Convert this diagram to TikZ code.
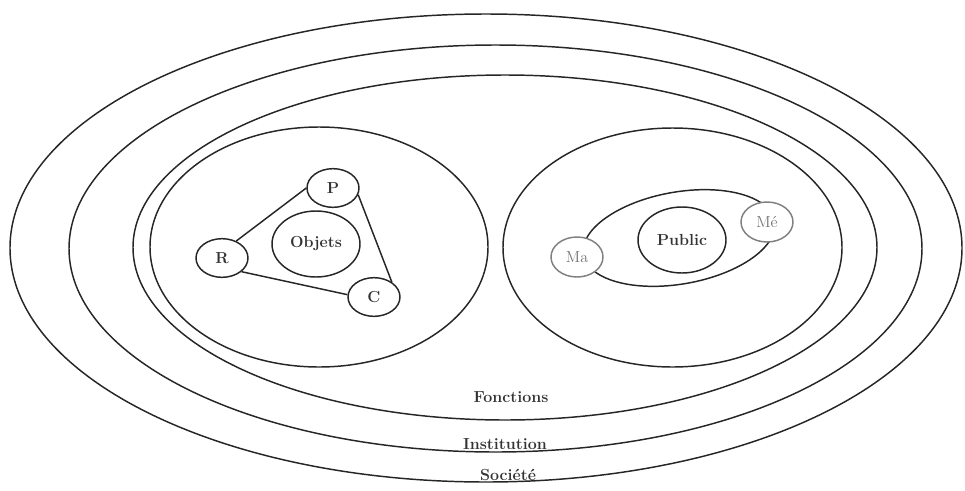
\documentclass[tikz,border=0pt]{standalone}
\usepackage{amssymb}
\usepackage{amsmath}
\usepackage{tikz}
\usetikzlibrary{shapes.geometric}

\begin{document}
\begin{tikzpicture}[x=0.75pt,y=0.75pt,yscale=-1,xscale=1,
    ring/.style={line width=1.1pt, black!85},
    bubble/.style={draw=black!85, ellipse, line width=1.1pt, fill=white, inner sep=0pt,
        minimum width=39pt, minimum height=29pt, text=black!80, font=\fontsize{12}{14}\selectfont\bfseries},
    bigbubble/.style={bubble, minimum width=66pt, minimum height=49.5pt},
    greybubble/.style={bubble, draw=black!50, text=black!55, minimum height=30pt, font=\fontsize{12}{14}\selectfont},
    lbl/.style={text=black!80, font=\fontsize{12}{14}\selectfont\bfseries}]
    \useasboundingbox (0,0) rectangle (965,490);

    %Shape: Ellipse [Societe]
    \draw [ring] (486,248) ellipse (476 and 234);
    %Shape: Ellipse [Institution]
    \draw [ring] (495.5,248.5) ellipse (426.5 and 203.5);
    %Shape: Ellipse [Fonctions]
    \draw [ring] (505,247.5) ellipse (372 and 172.5);
    %Shape: Ellipse [left]
    \draw [ring] (319,247) ellipse (169 and 120);
    %Shape: Ellipse [right]
    \draw [ring] (672.5,247.5) ellipse (169.5 and 119.5);
    %Shape: Ellipse [Ma - Me]
    \draw [ring, rotate around={-10:(679,238)}] (679,238) ellipse (97 and 46);

    % Objets group
    \node [bigbubble] (objets) at (316,244) {Objets};
    \node [bubble] (p) at (333,188) {P};
    \node [bubble] (r) at (222,258) {R};
    \node [bubble] (c) at (374,297) {C};
    \draw [ring] (r.50) -- (p.180);
    \draw [ring] (p.-15) -- (c.40);
    \draw [ring] (r.-35) -- (c.175);

    % Public group
    \node [bigbubble] (public) at (682,240) {Public};
    \node [greybubble] (ma) at (577,257) {Ma};
    \node [greybubble] (me) at (767,222) {Mé};

    % Text Node
    \node [lbl] (fonctions) at (511,397) {Fonctions};
    % Text Node
    \node [lbl] (institution) at (505,444) {Institution};
    % Text Node
    \node [lbl] (societe) at (508,475) {Société};

\end{tikzpicture}
\end{document}
